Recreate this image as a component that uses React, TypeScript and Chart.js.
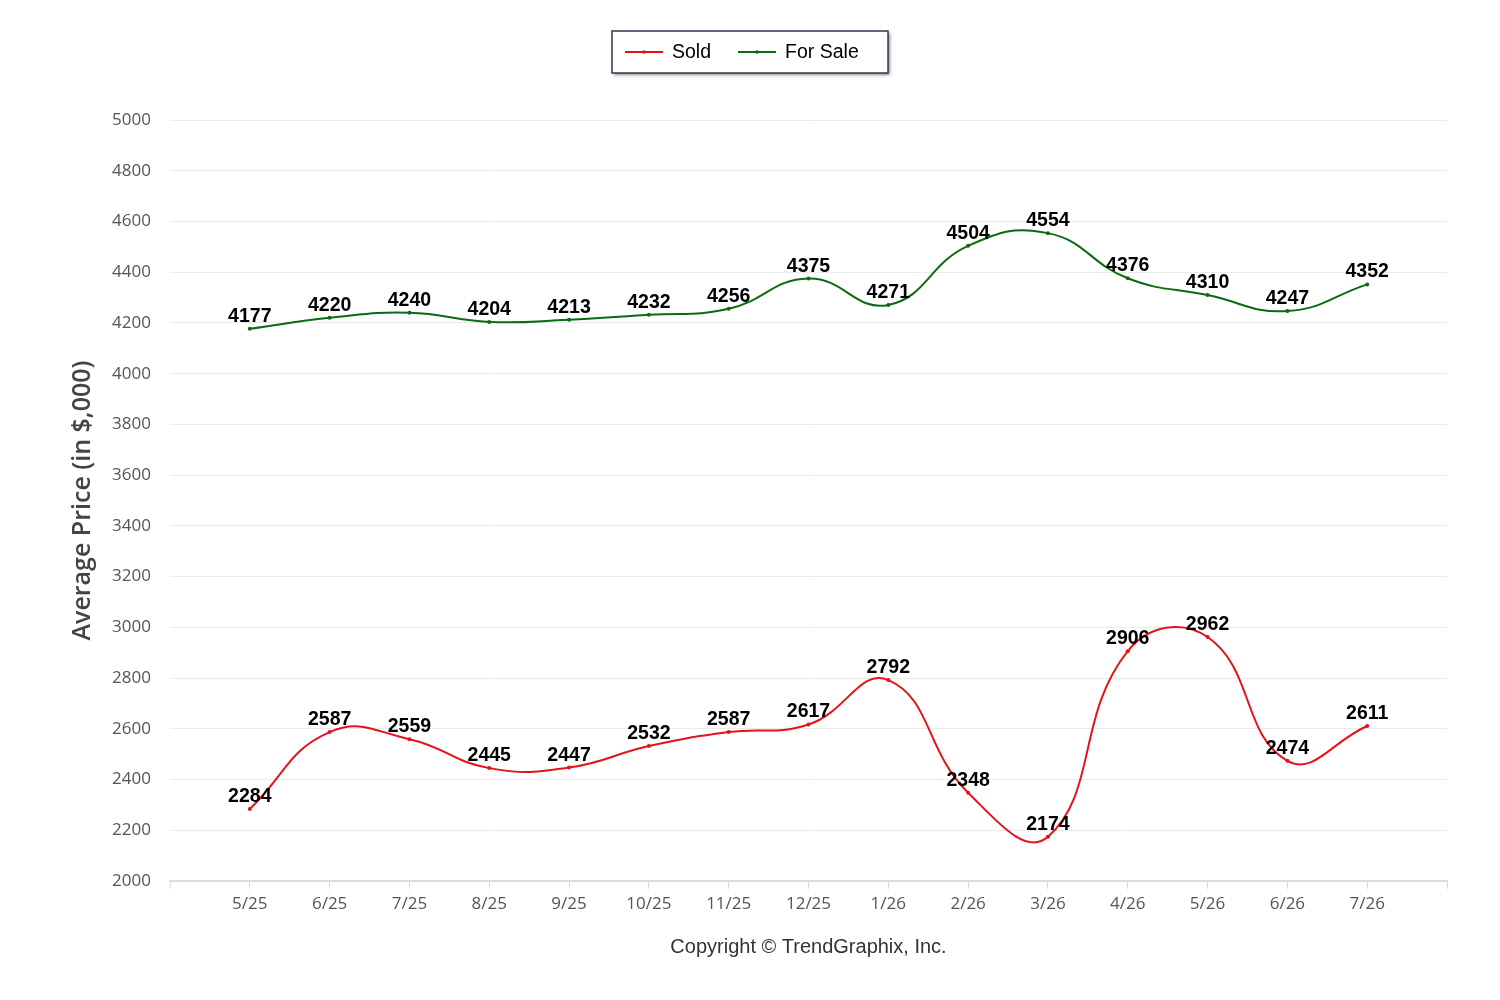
import React, { useEffect, useRef } from 'react';
import { Chart, registerables, Plugin } from 'chart.js';

Chart.register(...registerables);

// month labels, padded with an empty slot at each end like the original axis
const MONTHS = ['5/25', '6/25', '7/25', '8/25', '9/25', '10/25', '11/25', '12/25', '1/26', '2/26', '3/26', '4/26', '5/26', '6/26', '7/26'];
const SOLD = [2284, 2587, 2559, 2445, 2447, 2532, 2587, 2617, 2792, 2348, 2174, 2906, 2962, 2474, 2611];
const FOR_SALE = [4177, 4220, 4240, 4204, 4213, 4232, 4256, 4375, 4271, 4504, 4554, 4376, 4310, 4247, 4352];

const RED = '#e5121b';
const GREEN = '#0b6b12';

const pad = (arr: any[], fill: any) => [fill, ...arr, fill];

const valueLabels: Plugin = {
  id: 'valueLabels',
  afterDatasetsDraw(chart) {
    const ctx = chart.ctx;
    ctx.save();
    ctx.font = "bold 19.5px 'Liberation Sans', Arial, sans-serif";
    ctx.fillStyle = '#000';
    ctx.textAlign = 'center';
    ctx.textBaseline = 'alphabetic';
    chart.data.datasets.forEach((ds, i) => {
      const meta = chart.getDatasetMeta(i);
      meta.data.forEach((pt: any, j) => {
        const v = ds.data[j] as number | null;
        if (v == null || pt.skip) return;
        ctx.fillText(String(v), pt.x, pt.y - 7);
      });
    });
    ctx.restore();
  },
};

const boxedLegend: Plugin = {
  id: 'boxedLegend',
  afterDraw(chart) {
    const ctx = chart.ctx;
    const x = 612, y = 31, w = 276, h = 42;
    ctx.save();
    ctx.shadowColor = 'rgba(0,0,0,0.45)';
    ctx.shadowOffsetX = 2;
    ctx.shadowOffsetY = 2;
    ctx.shadowBlur = 3;
    ctx.fillStyle = '#fff';
    ctx.fillRect(x, y, w, h);
    ctx.shadowColor = 'transparent';
    ctx.strokeStyle = '#2c3850';
    ctx.lineWidth = 1.5;
    ctx.strokeRect(x, y, w, h);

    ctx.font = "19.5px 'Liberation Sans', Arial, sans-serif";
    ctx.textBaseline = 'middle';
    ctx.textAlign = 'left';
    let cx = x + 13;
    const cy = y + h / 2;
    chart.data.datasets.forEach((ds: any) => {
      ctx.strokeStyle = ds.borderColor;
      ctx.lineWidth = 2;
      ctx.beginPath();
      ctx.moveTo(cx, cy);
      ctx.lineTo(cx + 38, cy);
      ctx.stroke();
      ctx.fillStyle = ds.borderColor;
      ctx.beginPath();
      ctx.arc(cx + 19, cy, 1.8, 0, Math.PI * 2);
      ctx.fill();
      ctx.fillStyle = '#000';
      ctx.fillText(ds.label, cx + 47, cy + 1);
      cx += 47 + ctx.measureText(ds.label).width + 27;
    });
    ctx.restore();
  },
};

const copyright: Plugin = {
  id: 'copyright',
  afterDraw(chart) {
    const ctx = chart.ctx;
    const area = chart.chartArea;
    ctx.save();
    ctx.font = "20px 'Liberation Sans', Arial, sans-serif";
    ctx.fillStyle = '#333';
    ctx.textAlign = 'center';
    ctx.textBaseline = 'middle';
    ctx.fillText('Copyright \u00a9 TrendGraphix, Inc.', (area.left + area.right) / 2, 947);
    ctx.restore();
  },
};

const PriceChart: React.FC = () => {
  const chartRef = useRef<HTMLCanvasElement>(null);
  const chartInstance = useRef<Chart | null>(null);

  useEffect(() => {
    document.body.style.margin = '0';
    if (chartInstance.current) {
      chartInstance.current.destroy();
    }
    if (chartRef.current) {
      const ctx = chartRef.current.getContext('2d');
      if (ctx) {
        chartInstance.current = new Chart(ctx, {
          type: 'line',
          data: {
            labels: pad(MONTHS, ''),
            datasets: [
              {
                label: 'Sold',
                data: pad(SOLD, null),
                borderColor: RED,
                backgroundColor: RED,
                borderWidth: 2,
                pointRadius: 2,
                pointBorderWidth: 0,
                tension: 0.45,
              },
              {
                label: 'For Sale',
                data: pad(FOR_SALE, null),
                borderColor: GREEN,
                backgroundColor: GREEN,
                borderWidth: 2,
                pointRadius: 2,
                pointBorderWidth: 0,
                tension: 0.45,
              },
            ],
          },
          options: {
            responsive: true,
            maintainAspectRatio: false,
            animation: false,
            layout: { padding: { top: 120, right: 53, left: 0, bottom: 0 } },
            plugins: {
              legend: { display: false },
              tooltip: { enabled: false },
            },
            scales: {
              x: {
                offset: false,
                afterFit: (scale: any) => { scale.height = 119; },
                grid: {
                  drawOnChartArea: false,
                  drawTicks: true,
                  tickLength: 8,
                  color: '#dcdcdc',
                },
                border: { color: '#dcdcdc', width: 2 },
                ticks: {
                  autoSkip: false,
                  maxRotation: 0,
                  padding: 5,
                  color: '#555',
                  font: { family: "'Open Sans', sans-serif", size: 17 },
                },
              },
              y: {
                min: 2000,
                max: 5000,
                afterFit: (scale: any) => { scale.width = 170; },
                grid: { color: '#ebebeb', drawTicks: false },
                border: { display: false },
                ticks: {
                  stepSize: 200,
                  padding: 19,
                  color: '#555',
                  callback: (v: any) => String(v),
                  font: { family: "'Open Sans', sans-serif", size: 17 },
                },
                title: {
                  display: true,
                  text: 'Average Price (in $,000)',
                  color: '#444',
                  padding: { top: 68, bottom: 0 },
                  font: { family: "'Open Sans', sans-serif", size: 25, weight: 600 },
                },
              },
            },
          },
          plugins: [valueLabels, boxedLegend, copyright],
        });
      }
    }
    return () => {
      if (chartInstance.current) {
        chartInstance.current.destroy();
        chartInstance.current = null;
      }
    };
  }, []);

  return (
    <div style={{ position: 'relative', width: '1500px', height: '1000px' }}>
      <canvas ref={chartRef}></canvas>
    </div>
  );
};

export default function App() {
  return <PriceChart />;
}
